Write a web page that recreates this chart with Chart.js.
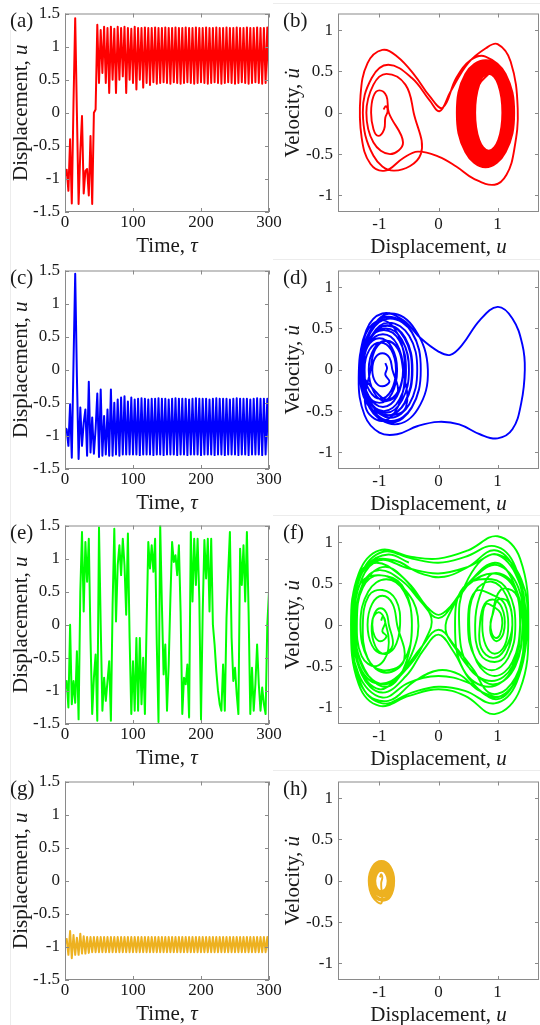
<!DOCTYPE html>
<html>
<head>
<meta charset="utf-8">
<script src="https://cdn.jsdelivr.net/npm/chart.js@4.4.0/dist/chart.umd.min.js"></script>
<style>
  body { margin: 0; background: #fff; width: 540px; height: 1025px; overflow: hidden; position: relative; }
  canvas { position: absolute; }
  .edge { position: absolute; background: #ececec; }
</style>
</head>
<body>
<div class="edge" style="left:10px;top:30px;width:1px;height:995px"></div>
<div class="edge" style="left:273px;top:3px;width:267px;height:1px"></div>
<div class="edge" style="left:273px;top:259px;width:267px;height:1px"></div>
<div class="edge" style="left:273px;top:515px;width:267px;height:1px"></div>
<div class="edge" style="left:273px;top:770px;width:267px;height:1px"></div>
<script>
// sample times, tau
const tau = [0,2.5,5,7.5,10,12.5,15,17.5,20,22.5,25,27.5,30,32.5,35,37.5,40,42.5,45,47.5,
  50,52.5,55,57.5,60,62.5,65,67.5,70,72.5,75,77.5,80,82.5,85,87.5,90,92.5,95,97.5,
  100,102.5,105,107.5,110,112.5,115,117.5,120,122.5,125,127.5,130,132.5,135,137.5,140,142.5,145,147.5,
  150,152.5,155,157.5,160,162.5,165,167.5,170,172.5,175,177.5,180,182.5,185,187.5,190,192.5,195,197.5,
  200,202.5,205,207.5,210,212.5,215,217.5,220,222.5,225,227.5,230,232.5,235,237.5,240,242.5,245,247.5,
  250,252.5,255,257.5,260,262.5,265,267.5,270,272.5,275,277.5,280,282.5,285,287.5,290,292.5,295,297.5,300];

// displacement u(tau) (a) (c) (e) (g)
const uRed = [-0.96,-0.86,-1.18,-0.4,-1.37,0.15,1.43,0.0,-1.38,-0.6,
  -0.05,-1.22,-0.88,-0.85,-1.25,-0.35,-1.38,0.0,0.05,1.33,
  0.45,1.25,0.6,1.3,0.45,1.28,0.3,1.3,0.5,1.27,
  0.3,1.3,0.5,1.28,0.55,1.3,0.3,1.28,0.5,1.27,
  0.45,1.3,0.35,1.28,0.5,1.28,0.38,1.29,0.45,1.28,
  0.42,1.28,0.46,1.29,0.44,1.28,0.45,1.28,0.46,1.29,
  0.45,1.28,0.44,1.28,0.46,1.29,0.45,1.28,0.44,1.28,
  0.45,1.29,0.46,1.28,0.45,1.28,0.44,1.29,0.45,1.28,
  0.46,1.28,0.45,1.29,0.44,1.28,0.45,1.28,0.46,1.29,
  0.45,1.28,0.44,1.28,0.45,1.29,0.46,1.28,0.45,1.28,
  0.44,1.29,0.45,1.28,0.46,1.28,0.45,1.29,0.44,1.28,
  0.45,1.28,0.46,1.29,0.45,1.28,0.44,1.28,0.45,1.29,0.45];

const uBlue = [-0.88,-0.9,-1.15,-0.52,-1.33,0.1,1.45,-0.1,-1.35,-0.57,
  -1.15,-0.8,-0.6,-1.3,-0.18,-1.25,-0.72,-1.27,-0.9,-0.36,
  -1.32,-0.3,-1.3,-0.7,-1.28,-0.6,-1.3,-0.3,-1.3,-0.5,
  -1.28,-0.45,-1.3,-0.42,-1.28,-0.4,-1.28,-0.48,-1.28,-0.42,
  -1.28,-0.45,-1.28,-0.44,-1.29,-0.43,-1.28,-0.44,-1.28,-0.45,
  -1.28,-0.44,-1.29,-0.44,-1.28,-0.43,-1.28,-0.44,-1.29,-0.44,
  -1.28,-0.45,-1.28,-0.44,-1.28,-0.43,-1.29,-0.44,-1.28,-0.44,
  -1.28,-0.44,-1.29,-0.45,-1.28,-0.44,-1.28,-0.43,-1.28,-0.44,
  -1.29,-0.44,-1.28,-0.44,-1.28,-0.45,-1.28,-0.44,-1.29,-0.43,
  -1.28,-0.44,-1.28,-0.44,-1.29,-0.44,-1.28,-0.45,-1.28,-0.44,
  -1.28,-0.43,-1.29,-0.44,-1.28,-0.44,-1.28,-0.44,-1.29,-0.45,
  -1.28,-0.44,-1.28,-0.43,-1.28,-0.44,-1.29,-0.44,-1.28,-0.44,-1.28];

const uGreen = [-0.97,-0.85,-1.25,0.0,-1.2,-0.85,-1.18,-0.4,-1.43,0.5,
  1.4,0.2,1.25,0.65,1.3,-0.2,-1.35,-0.8,-0.45,-1.45,
  1.47,0.0,-1.3,-0.8,-1.15,-0.85,-0.55,-1.45,0.3,1.45,
  0.05,0.9,1.2,0.75,1.3,0.9,0.15,1.38,-0.2,-1.35,
  -0.55,-1.3,-0.2,-1.3,-0.2,-1.2,-0.5,-1.35,0.0,1.25,
  0.85,1.2,0.8,1.3,-0.3,-1.47,1.5,0.3,-0.75,-0.3,
  -1.3,-0.6,0.4,1.25,0.95,1.05,0.75,1.2,0.2,-1.35,
  -0.8,-0.9,-0.6,-1.4,1.4,0.35,1.3,0.6,1.3,0.4,
  -1.43,0.2,1.28,0.7,1.3,0.2,1.3,0.0,-0.3,-0.7,
  -1.0,-1.2,-1.3,-0.6,-1.3,0.1,0.8,1.4,-0.2,-0.85,
  -0.65,-1.05,-1.35,1.15,0.6,1.2,0.35,1.4,0.2,-1.35,
  -0.65,-1.3,-0.9,-0.3,-0.9,-1.3,-0.95,-1.2,-1.35,0.0,0.5];

const uOrange = [-0.95,-0.88,-1.12,-0.76,-1.17,-0.82,-1.12,-0.86,-1.12,-0.8,
  -1.1,-0.84,-1.1,-0.85,-1.09,-0.85,-1.08,-0.85,-1.08,-0.85,
  -1.08,-0.85,-1.08,-0.85,-1.08,-0.85,-1.08,-0.85,-1.08,-0.85,
  -1.08,-0.85,-1.08,-0.85,-1.08,-0.85,-1.08,-0.85,-1.08,-0.85,
  -1.08,-0.85,-1.08,-0.85,-1.08,-0.85,-1.08,-0.85,-1.08,-0.85,
  -1.08,-0.85,-1.08,-0.85,-1.08,-0.85,-1.08,-0.85,-1.08,-0.85,
  -1.08,-0.85,-1.08,-0.85,-1.08,-0.85,-1.08,-0.85,-1.08,-0.85,
  -1.08,-0.85,-1.08,-0.85,-1.08,-0.85,-1.08,-0.85,-1.08,-0.85,
  -1.08,-0.85,-1.08,-0.85,-1.08,-0.85,-1.08,-0.85,-1.08,-0.85,
  -1.08,-0.85,-1.08,-0.85,-1.08,-0.85,-1.08,-0.85,-1.08,-0.85,
  -1.08,-0.85,-1.08,-0.85,-1.08,-0.85,-1.08,-0.85,-1.08,-0.85,
  -1.08,-0.85,-1.08,-0.85,-1.08,-0.85,-1.08,-0.85,-1.08,-0.85,-1.08];

// phase orbits [u, velocity] (b) (d) (f) (h)
const orbitRed = [
  [-0.93,0.04],[-0.89,0.08],[-0.86,0.02],[-0.9,-0.06],
  [-0.92,-0.2],[-1.02,-0.28],[-1.1,-0.2],[-1.14,0.0],[-1.1,0.2],[-1.0,0.27],[-0.88,0.2],[-0.84,0.0],
  [-0.6,-0.36],[-0.82,-0.5],[-1.1,-0.36],[-1.22,0.0],[-1.1,0.34],[-0.88,0.47],[-0.56,0.34],[-0.42,0.0],
  [-0.3,-0.5],[-0.75,-0.7],[-1.1,-0.52],[-1.28,0.0],[-1.13,0.42],[-0.85,0.58],[-0.45,0.42],[-0.15,0.15],[0.02,0.02],
  [0.2,0.25],[0.5,0.6],[0.8,0.78],[1.0,0.83],[1.22,0.62],[1.34,0.05],[1.28,-0.45],[1.15,-0.75],[0.95,-0.87],
  [0.6,-0.8],[0.3,-0.65],[0.0,-0.53],[-0.35,-0.47],[-0.6,-0.55],[-0.9,-0.7],[-1.15,-0.62],[-1.3,-0.3],
  [-1.32,0.2],[-1.2,0.6],[-0.95,0.76],[-0.7,0.68],[-0.4,0.45],[-0.15,0.2],[0.07,0.06],
  [0.3,0.42],[0.55,0.64],[0.795,0.68],
  [1.135,0.47],[1.28,0],[1.135,-0.475],[0.795,-0.66],[0.455,-0.475],[0.31,0],[0.455,0.47],
  [0.8,0.635],[1.125,0.457],[1.265,0],[1.125,-0.464],[0.8,-0.645],[0.475,-0.464],[0.335,0],[0.475,0.457],
  [0.805,0.62],[1.116,0.446],[1.25,0],[1.116,-0.454],[0.805,-0.63],[0.494,-0.454],[0.36,0],[0.494,0.446],
  [0.81,0.605],[1.103,0.436],[1.23,0],[1.103,-0.44],[0.81,-0.61],[0.512,-0.44],[0.385,0],[0.512,0.436],
  [0.81,0.59],[1.09,0.425],[1.21,0],[1.09,-0.425],[0.81,-0.59],[0.53,-0.425],[0.41,0],[0.53,0.425],
  [0.82,0.575],[1.081,0.414],[1.195,0],[1.081,-0.414],[0.82,-0.575],[0.552,-0.414],[0.438,0],[0.552,0.414],
  [0.82,0.56],[1.073,0.403],[1.18,0],[1.073,-0.403],[0.82,-0.56],[0.572,-0.403],[0.465,0],[0.572,0.403],
  [0.83,0.545],[1.064,0.392],[1.165,0],[1.064,-0.392],[0.83,-0.545],[0.591,-0.392],[0.49,0],[0.591,0.392],
  [0.83,0.53],[1.055,0.382],[1.15,0],[1.055,-0.382],[0.83,-0.53],[0.61,-0.382],[0.515,0],[0.61,0.382],
  [0.84,0.515],[1.042,0.371],[1.13,0],[1.042,-0.371],[0.84,-0.515],[0.631,-0.371],[0.543,0],[0.631,0.371],
  [0.84,0.5],[1.029,0.36],[1.11,0],[1.029,-0.36],[0.84,-0.5],[0.651,-0.36],[0.57,0],[0.651,0.36],
  [0.845,0.485],[1.02,0.349],[1.095,0],[1.02,-0.346],[0.845,-0.48],[0.67,-0.346],[0.595,0],[0.67,0.349],
  [0.85,0.47],[1.011,0.338],[1.08,0],[1.011,-0.331],[0.85,-0.46],[0.689,-0.331],[0.62,0],[0.689,0.338],[0.85,0.47]
];

const orbitBlue = [
  [-0.9,0.08],[-0.87,0.02],[-0.9,-0.06],
  [-0.83,-0.144],[-0.95,-0.2],[-1.07,-0.144],[-1.12,0],[-1.07,0.144],[-0.95,0.2],[-0.83,0.144],[-0.78,0],
  [-0.687,-0.27],[-0.89,-0.38],[-1.093,-0.27],[-1.18,0],[-1.093,0.25],[-0.89,0.35],[-0.687,0.25],[-0.6,0],
  [-0.55,-0.45],[-0.85,-0.55],[-1.2,-0.42],[-1.33,0],[-1.22,0.48],[-0.95,0.68],[-0.6,0.6],[-0.3,0.38],
  [0.0,0.22],[0.2,0.18],[0.4,0.3],[0.7,0.6],[1.0,0.76],[1.25,0.62],[1.42,0.3],[1.46,0.0],[1.4,-0.4],
  [1.25,-0.72],[1.0,-0.83],[0.7,-0.78],[0.35,-0.66],[0.0,-0.63],[-0.35,-0.68],[-0.7,-0.78],[-1.0,-0.76],
  [-1.25,-0.55],[-1.35,-0.1],
  [-1.233,0.43],[-0.96,0.6],[-0.687,0.43],[-0.57,0],[-0.687,-0.45],[-0.96,-0.62],[-1.233,-0.45],
  [-1.15,0],[-1.067,0.25],[-0.875,0.35],[-0.683,0.25],[-0.6,0],[-0.683,-0.26],[-0.875,-0.36],[-1.067,-0.26],
  [-1.3,0],[-1.132,0.49],[-0.8,0.68],[-0.4,0.49],[-0.18,0],[-0.35,-0.475],[-0.74,-0.66],[-1.132,-0.475],
  [-1.25,0],[-1.17,0.24],[-0.985,0.33],[-0.8,0.24],[-0.72,0],[-0.8,-0.25],[-0.985,-0.35],[-1.17,-0.25],
  [-1.27,0],[-1.133,0.41],[-0.84,0.57],[-0.497,0.41],[-0.36,0],[-0.497,-0.42],[-0.815,-0.58],[-1.133,-0.42],
  [-1.32,0],[-1.167,0.46],[-0.85,0.64],[-0.453,0.46],[-0.3,0],[-0.453,-0.46],[-0.81,-0.64],[-1.167,-0.46],
  [-1.3,0],[-1.21,0.27],[-1.0,0.38],[-0.79,0.27],[-0.7,0],[-0.79,-0.29],[-1.0,-0.4],[-1.21,-0.29],
  [-1.28,0],[-1.178,0.31],[-0.94,0.43],[-0.702,0.31],[-0.6,0],[-0.702,-0.32],[-0.94,-0.45],[-1.178,-0.32],
  [-1.3,0],[-1.15,0.45],[-0.82,0.62],[-0.45,0.45],[-0.3,0],[-0.45,-0.45],[-0.8,-0.62],[-1.15,-0.45],
  [-1.3,0],[-1.19,0.35],[-0.925,0.48],[-0.66,0.35],[-0.55,0],[-0.66,-0.36],[-0.925,-0.5],[-1.19,-0.36],
  [-1.28,0],[-1.163,0.36],[-0.89,0.5],[-0.617,0.36],[-0.5,0],[-0.617,-0.37],[-0.89,-0.52],[-1.163,-0.37],
  [-1.28,0],[-1.155,0.38],[-0.865,0.53],[-0.575,0.38],[-0.45,0],[-0.575,-0.4],[-0.865,-0.55],[-1.155,-0.4],
  [-1.28,0],[-1.154,0.39],[-0.86,0.54],[-0.566,0.39],[-0.44,0],[-0.566,-0.4],[-0.86,-0.55],[-1.154,-0.4],[-1.28,0]
];

const orbitGreen = [
  [-0.97,0.05],[-0.94,0.1],[-0.9,0.03],[-0.95,-0.08],
  [-0.88,-0.14],[-0.98,-0.2],[-1.08,-0.14],[-1.12,0],[-1.08,0.14],[-0.98,0.2],[-0.88,0.14],[-0.84,0],
  [-0.775,-0.25],[-0.95,-0.35],[-1.125,-0.25],[-1.2,0],[-1.125,0.25],[-0.95,0.35],[-0.775,0.25],[-0.7,0],
  [-0.58,-0.42],[-0.885,-0.58],[-1.19,-0.42],[-1.32,0],[-1.19,0.4],[-0.885,0.55],[-0.58,0.4],[-0.45,0],
  [-0.6,-0.55],[-0.9,-0.75],[-1.25,-0.54],[-1.42,0],[-1.25,0.5],[-0.9,0.7],[-0.5,0.5],[-0.2,0.22],[0.0,0.12],
  [0.2,0.22],[0.5,0.5],[0.95,0.75],
  [1.25,0.54],[1.42,0],[1.25,-0.54],[0.85,-0.75],[0.42,-0.54],[0.28,0],[0.42,0.45],
  [0.9,0.55],[1.18,0.4],[1.3,0],[1.18,-0.4],[0.9,-0.55],[0.62,-0.4],[0.5,0],[0.62,0.4],
  [0.95,0.35],[1.12,0.25],[1.18,0],[1.12,-0.25],[0.95,-0.35],[0.8,-0.25],[0.74,0],[0.8,0.25],
  [0.97,0.2],[1.05,0.14],[1.08,0.02],[1.04,-0.12],[0.97,-0.16],[0.9,-0.1],[0.88,0.03],[0.92,0.13],
  [1.0,0.3],[1.17,0.28],[1.25,0],[1.15,-0.35],[0.95,-0.45],[0.7,-0.35],[0.62,0],[0.7,0.35],
  [0.92,0.62],[1.25,0.5],[1.38,0],[1.25,-0.5],[0.9,-0.68],[0.5,-0.5],[0.35,0],[0.45,0.48],
  [0.9,0.85],[1.3,0.62],[1.48,0],[1.32,-0.65],[0.95,-0.88],[0.55,-0.68],[0.25,-0.32],[0.0,-0.12],
  [-0.25,-0.3],[-0.55,-0.62],[-0.95,-0.82],
  [-1.3,-0.6],[-1.45,0],[-1.3,0.62],[-0.95,0.88],
  [-0.45,0.8],[0.0,0.75],[0.45,0.82],[0.95,0.95],[1.3,0.7],[1.48,0],[1.32,-0.7],[0.95,-0.95],[0.45,-0.8],
  [0.0,-0.75],[-0.45,-0.82],[-0.95,-0.95],[-1.32,-0.7],[-1.47,0],[-1.35,0.62],[-1.0,0.9],
  [-0.45,0.82],[0.0,0.8],[0.5,0.9],[1.0,1.07],[1.38,0.8],[1.52,0],[1.38,-0.78],[0.95,-1.08],[0.45,-0.86],
  [0.0,-0.78],[-0.5,-0.86],[-1.0,-0.98],[-1.35,-0.72],[-1.48,0],[-1.35,0.6],
  [-1.05,0.75],[-0.65,0.6],[-0.35,0.35],[-0.12,0.08],[-0.2,-0.15],[-0.5,-0.5],[-0.9,-0.72],[-1.28,-0.52],
  [-1.4,0],[-1.28,0.5],[-1.0,0.66],
  [-0.6,0.52],[-0.3,0.28],[0.0,0.08],[0.3,0.3],[0.65,0.6],[1.0,0.72],[1.35,0.45],[1.42,0],[1.3,-0.5],[0.95,-0.72],
  [0.6,-0.58],[0.3,-0.3],[0.12,-0.06],[0.22,0.18],[0.5,0.48],[0.95,0.62],[1.3,0.42],[1.38,0],[1.25,-0.45],[0.95,-0.62],
  [0.65,-0.45],[0.52,0],[0.62,0.4],[0.9,0.52],[1.15,0.35],[1.25,0],[1.12,-0.3],[0.92,-0.4],[0.72,-0.28],
  [0.7,0.0],[0.78,0.25],[0.95,0.3],[1.1,0.15],[1.1,-0.1],[0.98,-0.2],[0.88,-0.1],[0.9,0.08],
  [1.05,0.42],[1.3,0.38],[1.42,0.05],[1.4,-0.45],[1.15,-0.78],[0.85,-0.82],[0.6,-0.55],[0.3,-0.28],[0.0,-0.06],
  [-0.3,-0.28],[-0.65,-0.6],[-1.0,-0.78],[-1.35,-0.5],[-1.44,0],[-1.3,0.55],[-1.0,0.78],
  [-0.5,0.68],[0.0,0.62],[0.5,0.7],[1.0,0.85],[1.4,0.55],[1.5,0],[1.35,-0.6],[1.0,-0.9],[0.5,-0.7],
  [0.0,-0.62],[-0.5,-0.7],[-0.95,-0.88],[-1.35,-0.6],[-1.46,0],[-1.32,0.5],
  [-1.0,0.6],[-0.62,0.48],[-0.45,0],[-0.6,-0.45],[-0.95,-0.55],[-1.2,-0.4],[-1.28,0],[-1.18,0.35],
  [-0.95,0.42],[-0.72,0.3],[-0.65,0],[-0.75,-0.28],[-0.95,-0.35],[-1.1,-0.2],[-1.12,0.05],[-1.02,0.15],[-0.92,0.08],
  [-0.85,-0.3],[-1.05,-0.5],[-1.3,-0.38],[-1.38,0.05],[-1.28,0.45],[-1.0,0.6],[-0.6,0.45],[-0.35,0.1],
  [-0.45,-0.35],[-0.8,-0.68],[-1.2,-0.65],[-1.43,-0.2],[-1.4,0.4],[-1.15,0.75],[-0.75,0.78],[-0.3,0.62],
  [0.1,0.58],[0.5,0.7],[0.95,0.9],[1.3,0.65],[1.45,0.1],[1.38,-0.5],[1.1,-0.85],[0.7,-0.8],[0.35,-0.6],
  [0.0,-0.55],[-0.4,-0.68],[-0.85,-0.92],[-1.25,-0.8],[-1.45,-0.3],[-1.42,0.35],[-1.2,0.72],[-0.85,0.85],[-0.5,0.75]
];

const orbitOrange = [
  [-0.99,0.04],[-0.97,0.08],[-0.95,0.04],[-0.97,-0.03],
  [-0.965,-0.27],[-1.115,-0.194],[-1.18,0],[-1.115,0.173],[-0.965,0.24],[-0.815,0.173],[-0.75,0],[-0.815,-0.194],
  [-0.965,-0.24],[-1.1,-0.173],[-1.16,0],[-1.1,0.158],[-0.965,0.22],[-0.83,0.158],[-0.77,0],[-0.83,-0.173],
  [-0.965,-0.22],[-1.087,-0.158],[-1.14,0],[-1.087,0.144],[-0.965,0.2],[-0.843,0.144],[-0.79,0],[-0.843,-0.158],
  [-0.965,-0.19],[-1.073,-0.137],[-1.12,0],[-1.073,0.13],[-0.965,0.18],[-0.857,0.13],[-0.81,0],[-0.857,-0.137],
  [-0.965,-0.17],[-1.06,-0.122],[-1.1,0],[-1.06,0.115],[-0.965,0.16],[-0.87,0.115],[-0.83,0],[-0.87,-0.122],
  [-0.965,-0.15],[-1.045,-0.108],[-1.08,0],[-1.045,0.1],[-0.965,0.14],[-0.885,0.1],[-0.85,0],[-0.885,-0.108],
  [-0.965,-0.13],[-1.038,-0.094],[-1.07,0],[-1.038,0.086],[-0.965,0.12],[-0.892,0.086],[-0.86,0],[-0.892,-0.094],[-0.965,-0.13]
];

const timeTicks = [0, 100, 200, 300];
const dispTicks = [-1.5, -1, -0.5, 0, 0.5, 1, 1.5];
const phaseUTicks = [-1, 0, 1];
const phaseVTicks = [-1, -0.5, 0, 0.5, 1];

const AXIS = '#8a8a8a';
const INK = '#1a1a1a';
const SERIF = '"Liberation Serif", "Times New Roman", serif';
const rowTops = [10, 267, 522, 778];

const panels = [
  { letter: '(a)', row: 0, col: 0, u: uRed, color: '#ff0000' },
  { letter: '(b)', row: 0, col: 1, orbit: orbitRed, color: '#ff0000' },
  { letter: '(c)', row: 1, col: 0, u: uBlue, color: '#0000ff' },
  { letter: '(d)', row: 1, col: 1, orbit: orbitBlue, color: '#0000ff' },
  { letter: '(e)', row: 2, col: 0, u: uGreen, color: '#00ff00' },
  { letter: '(f)', row: 2, col: 1, orbit: orbitGreen, color: '#00ff00' },
  { letter: '(g)', row: 3, col: 0, u: uOrange, color: '#edb120' },
  { letter: '(h)', row: 3, col: 1, orbit: orbitOrange, color: '#edb120' }
];

// text with italic pieces, centred on the current origin
function richText(ctx, parts, size) {
  const fonts = parts.map(p => (p.i ? 'italic ' : '') + size + 'px ' + SERIF);
  let total = 0;
  const ws = parts.map((p, k) => {
    ctx.font = fonts[k];
    const w = ctx.measureText(p.t).width;
    total += w;
    return w;
  });
  let x = -total / 2;
  parts.forEach((p, k) => {
    ctx.font = fonts[k];
    ctx.fillText(p.t, x, 0);
    x += ws[k];
  });
}

function framePlugin(p, isTime) {
  return {
    id: 'frame',
    afterDatasetsDraw(chart) {
      const { ctx, chartArea: ca, scales: { x, y } } = chart;
      ctx.save();
      ctx.strokeStyle = AXIS;
      ctx.lineWidth = 1;
      ctx.strokeRect(ca.left + 0.5, ca.top + 0.5, ca.right - ca.left - 1, ca.bottom - ca.top - 1);
      ctx.beginPath();
      x.ticks.forEach(t => {
        const px = Math.round(x.getPixelForValue(t.value)) + 0.5;
        ctx.moveTo(px, ca.bottom); ctx.lineTo(px, ca.bottom - 4);
        ctx.moveTo(px, ca.top); ctx.lineTo(px, ca.top + 4);
      });
      y.ticks.forEach(t => {
        const py = Math.round(y.getPixelForValue(t.value)) + 0.5;
        ctx.moveTo(ca.left, py); ctx.lineTo(ca.left + 4, py);
        ctx.moveTo(ca.right, py); ctx.lineTo(ca.right - 4, py);
      });
      ctx.stroke();

      ctx.fillStyle = INK;
      ctx.textAlign = 'left';
      ctx.textBaseline = 'alphabetic';
      // x title
      ctx.save();
      ctx.translate((ca.left + ca.right) / 2, isTime ? 252 : 253);
      richText(ctx, isTime ? [{ t: 'Time, ' }, { t: 'τ', i: true }]
                           : [{ t: 'Displacement, ' }, { t: 'u', i: true }], 21);
      ctx.restore();
      // y title
      ctx.save();
      ctx.translate(isTime ? 27 : 28.5, (ca.top + ca.bottom) / 2);
      ctx.rotate(-Math.PI / 2);
      richText(ctx, isTime ? [{ t: 'Displacement, ' }, { t: 'u', i: true }]
                           : [{ t: 'Velocity, ' }, { t: 'u\u0307', i: true }], 21);
      ctx.restore();
      // panel letter
      ctx.font = '21px ' + SERIF;
      ctx.fillText(p.letter, isTime ? 10 : 13, 27);
      ctx.restore();
    }
  };
}

function makePanel(p) {
  const isTime = !!p.u;
  const w = isTime ? 300 : 270;
  const h = 262;
  const cv = document.createElement('canvas');
  cv.width = w; cv.height = h;
  cv.style.width = w + 'px'; cv.style.height = h + 'px';
  cv.style.left = (isTime ? 0 : 270) + 'px';
  cv.style.top = (rowTops[p.row] - 10) + 'px';
  document.body.appendChild(cv);

  const pts = isTime ? tau.map((t, k) => ({ x: t, y: p.u[k] }))
                     : p.orbit.map(q => ({ x: q[0], y: q[1] }));
  const tickFont = { family: SERIF, size: 17, lineHeight: 1 };
  const xTicks = isTime ? timeTicks : phaseUTicks;
  const yTicks = isTime ? dispTicks : phaseVTicks;

  new Chart(cv, {
    type: 'line',
    data: {
      datasets: [{
        data: pts,
        borderColor: p.color,
        borderWidth: isTime ? 2 : 1.9,
        borderJoinStyle: 'round',
        pointRadius: 0,
        tension: isTime ? 0 : 0.4,
        fill: false
      }]
    },
    options: {
      responsive: false,
      animation: false,
      devicePixelRatio: 1,
      layout: { padding: { left: 0, top: 10, right: isTime ? 31 : 1, bottom: 0 } },
      plugins: { legend: { display: false }, tooltip: { enabled: false } },
      scales: {
        x: {
          type: 'linear',
          min: isTime ? 0 : -1.7,
          max: isTime ? 300 : 1.7,
          afterBuildTicks: s => { s.ticks = xTicks.map(v => ({ value: v })); },
          afterFit: s => { s.height = 50; },
          grid: { display: false, drawTicks: false },
          border: { display: false },
          ticks: { color: INK, font: tickFont, padding: isTime ? 2 : 4, autoSkip: false, maxRotation: 0,
                   callback: v => String(v) }
        },
        y: {
          type: 'linear',
          min: isTime ? -1.5 : -1.2,
          max: isTime ? 1.5 : 1.2,
          afterBuildTicks: s => { s.ticks = yTicks.map(v => ({ value: v })); },
          afterFit: s => { s.width = isTime ? 65 : 68; },
          grid: { display: false, drawTicks: false },
          border: { display: false },
          ticks: { color: INK, font: tickFont, padding: 5, autoSkip: false, callback: v => String(v) }
        }
      }
    },
    plugins: [framePlugin(p, isTime)]
  });
}

panels.forEach(makePanel);
</script>
</body>
</html>
